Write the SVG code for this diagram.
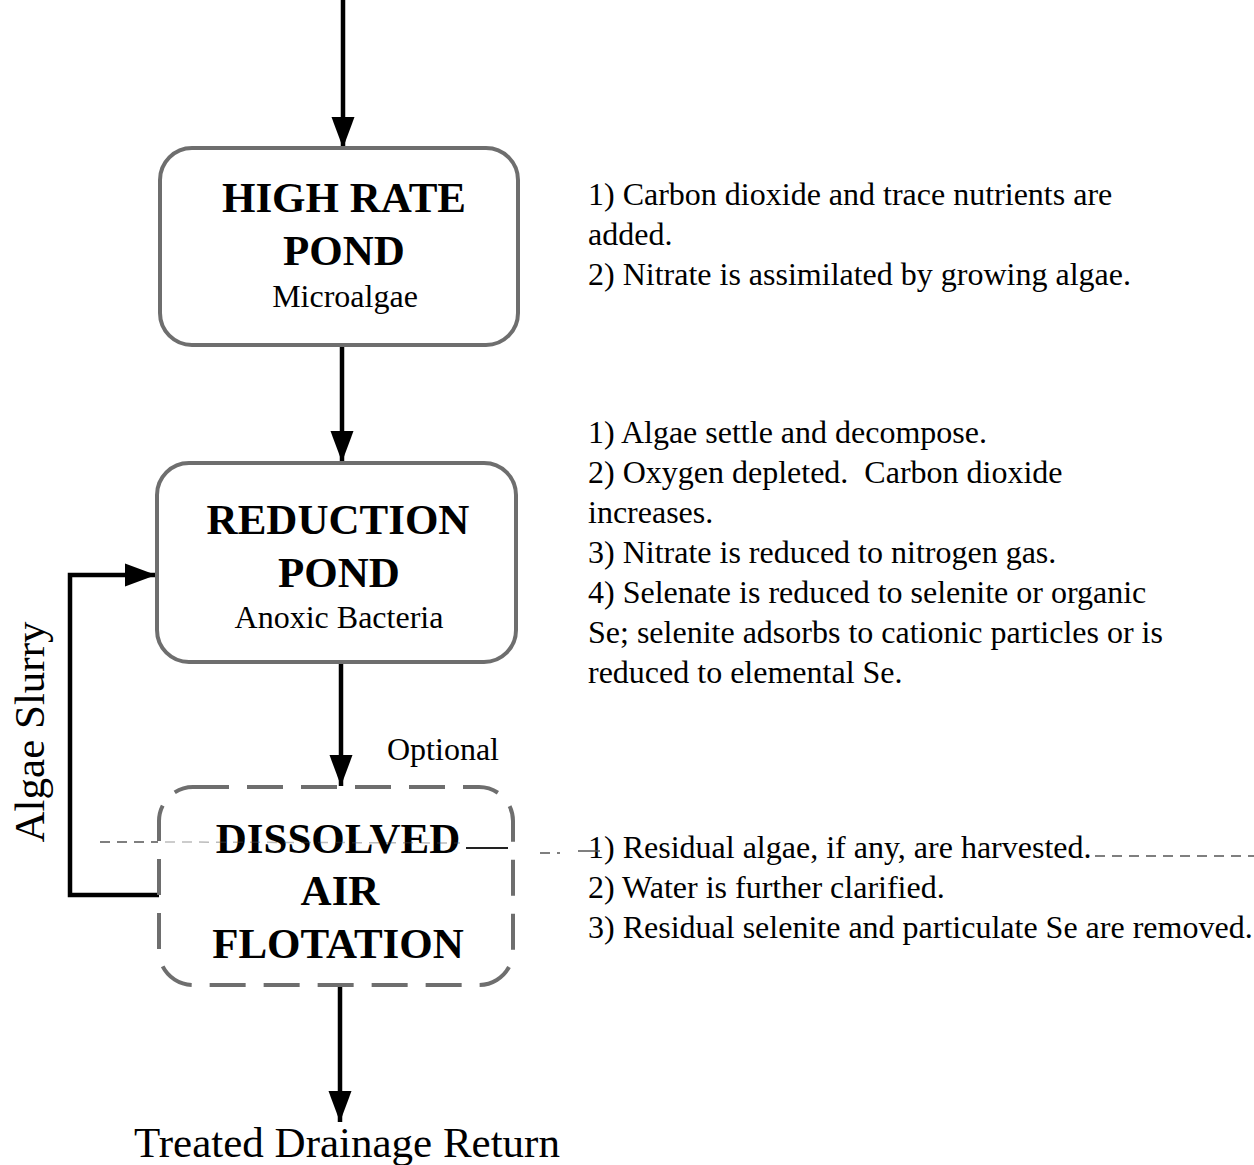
<svg xmlns="http://www.w3.org/2000/svg" width="1254" height="1165" viewBox="0 0 1254 1165">
<defs>
<marker id="ah" markerWidth="7" markerHeight="5.2" refX="7" refY="2.6" orient="auto" markerUnits="strokeWidth">
<path d="M0,0 L7,2.6 L0,5.2 Z" fill="#000"/>
</marker>
<style>
.box{fill:#fff;stroke:#6e6e6e;stroke-width:4}
.dash{stroke-dasharray:36 18}
.h{font-family:"Liberation Serif","Times New Roman",serif;font-weight:bold;font-size:43px;text-anchor:middle;fill:#000}
.s{font-family:"Liberation Serif","Times New Roman",serif;font-size:32px;text-anchor:middle;fill:#000}
.t{font-family:"Liberation Serif","Times New Roman",serif;font-size:32px;fill:#000}
.big{font-family:"Liberation Serif","Times New Roman",serif;font-size:43px;fill:#000}
.c{fill:none;stroke:#000;stroke-width:4.5}
.art{fill:none;stroke:#555;stroke-width:1.5;stroke-dasharray:10 7}
</style>
</defs>
<rect width="1254" height="1165" fill="#fff"/>
<g id="connectors">
<line class="c" x1="343" y1="0" x2="343" y2="148" marker-end="url(#ah)"/>
<line class="c" x1="342" y1="346" x2="342" y2="462" marker-end="url(#ah)"/>
<line class="c" x1="341" y1="663" x2="341" y2="786" marker-end="url(#ah)"/>
<line class="c" x1="340" y1="986" x2="340" y2="1122" marker-end="url(#ah)"/>
<polyline class="c" points="160,895 70,895 70,575 156,575" marker-end="url(#ah)"/>
</g>
<g id="high-rate-pond">
<rect class="box" x="160" y="148" width="358" height="197" rx="32"/>
<text class="h" x="344" y="212">HIGH RATE</text>
<text class="h" x="344" y="265">POND</text>
<text class="s" x="345" y="307">Microalgae</text>
</g>
<g id="reduction-pond">
<rect class="box" x="157" y="463" width="359" height="199" rx="32"/>
<text class="h" x="338" y="534">REDUCTION</text>
<text class="h" x="339" y="587">POND</text>
<text class="s" x="339" y="628">Anoxic Bacteria</text>
</g>
<g id="dissolved-air-flotation">
<rect class="box dash" x="159" y="787" width="354" height="198" rx="34"/>
<text class="h" x="338" y="853">DISSOLVED</text>
<text class="h" x="340" y="905">AIR</text>
<text class="h" x="338" y="958">FLOTATION</text>
<text class="s" x="443" y="760">Optional</text>
</g>
<g id="algae-slurry">
<text class="big" transform="translate(44,732) rotate(-90)" text-anchor="middle">Algae Slurry</text>
</g>
<g id="treated">
<text class="big" x="347" y="1157" text-anchor="middle">Treated Drainage Return</text>
</g>
<g id="notes-1">
<text class="t" x="588" y="205">1) Carbon dioxide and trace nutrients are</text>
<text class="t" x="588" y="245">added.</text>
<text class="t" x="588" y="285">2) Nitrate is assimilated by growing algae.</text>
</g>
<g id="notes-2">
<text class="t" x="588" y="443">1) Algae settle and decompose.</text>
<text class="t" x="588" y="483" xml:space="preserve">2) Oxygen depleted.  Carbon dioxide</text>
<text class="t" x="588" y="523">increases.</text>
<text class="t" x="588" y="563">3) Nitrate is reduced to nitrogen gas.</text>
<text class="t" x="588" y="603">4) Selenate is reduced to selenite or organic</text>
<text class="t" x="588" y="643">Se; selenite adsorbs to cationic particles or is</text>
<text class="t" x="588" y="683">reduced to elemental Se.</text>
</g>
<g id="notes-3">
<text class="t" x="588" y="858">1) Residual algae, if any, are harvested.</text>
<text class="t" x="588" y="898">2) Water is further clarified.</text>
<text class="t" x="588" y="938">3) Residual selenite and particulate Se are removed.</text>
</g>
<g id="artifacts">
<line class="art" x1="100" y1="842" x2="158" y2="842"/>
<line class="art" x1="165" y1="842" x2="460" y2="843" stroke-opacity="0.4"/>
<line x1="466" y1="848" x2="508" y2="848" stroke="#222" stroke-width="2"/>
<line class="art" x1="540" y1="853" x2="560" y2="853"/>
<line x1="578" y1="851" x2="600" y2="851" stroke="#555" stroke-width="1.5"/>
<line class="art" x1="1095" y1="856" x2="1254" y2="856"/>
</g>
</svg>
